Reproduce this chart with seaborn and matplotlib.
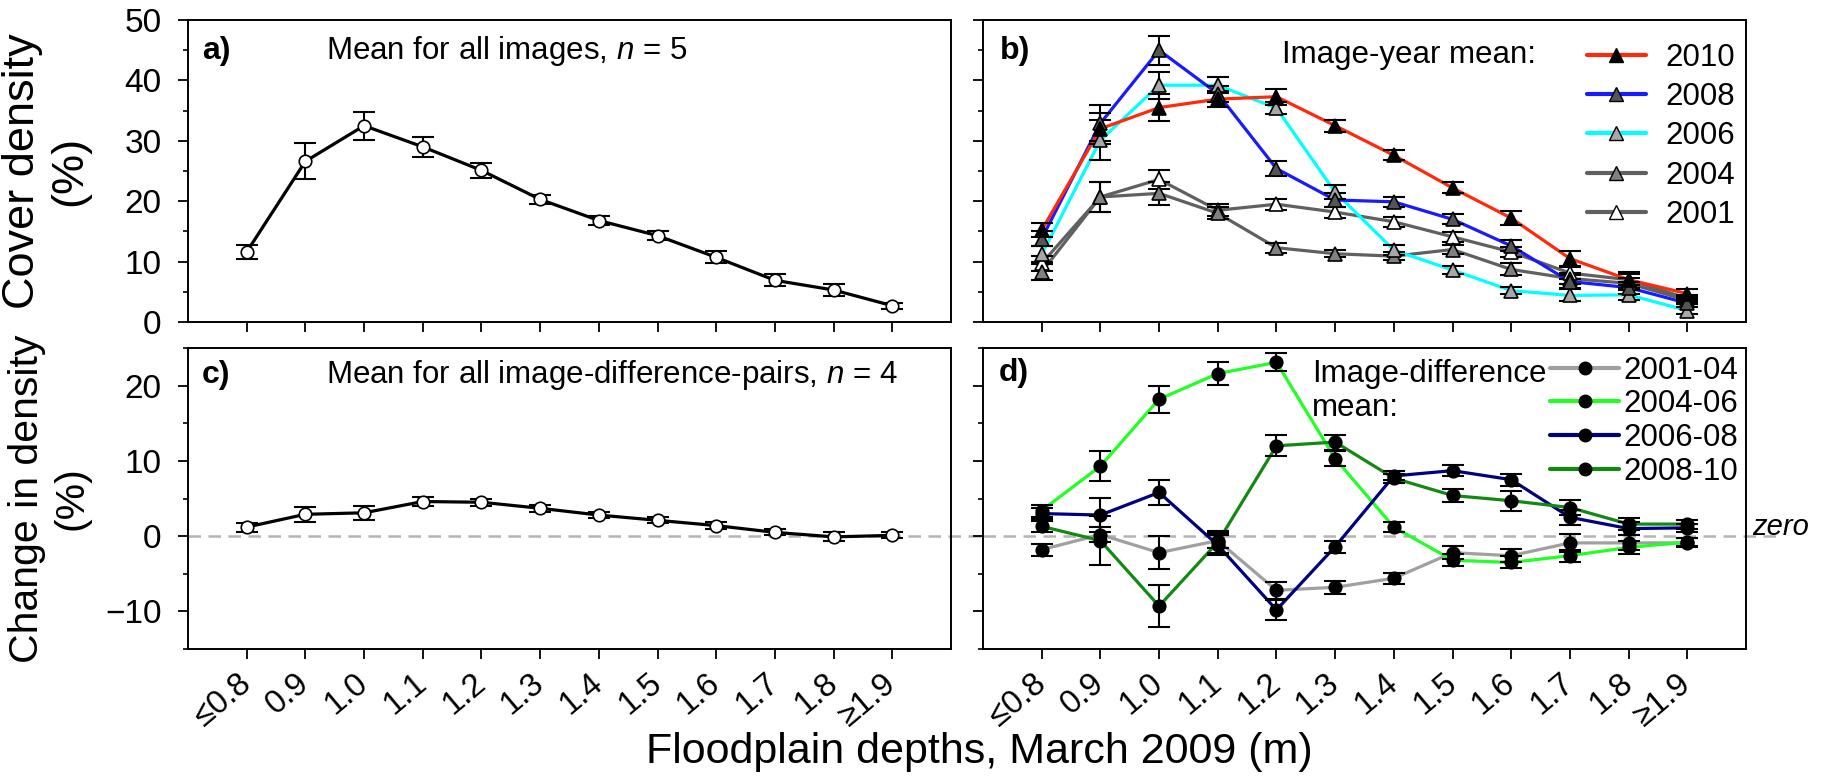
import matplotlib
matplotlib.use("Agg")
import matplotlib.pyplot as plt
import seaborn as sns
import numpy as np
from matplotlib.lines import Line2D
from matplotlib.ticker import MultipleLocator

# Data
depth_labels = ["≤0.8", "0.9", "1.0", "1.1", "1.2", "1.3",
                "1.4", "1.5", "1.6", "1.7", "1.8", "≥1.9"]

# a) mean for all images
all_mean = [11.6, 26.6, 32.5, 29.0, 25.1, 20.3, 16.8, 14.3, 10.7, 6.9, 5.3, 2.7]
all_err = [1.2, 3.0, 2.3, 1.6, 1.2, 0.8, 0.7, 0.7, 1.0, 1.0, 1.0, 0.5]

# b) image-year means
years = ["2010", "2008", "2006", "2004", "2001"]
yr2010 = [15.2, 32.0, 35.5, 36.9, 37.3, 32.5, 27.6, 22.2, 17.2, 10.5, 7.0, 4.7]
err2010 = [1.2, 2.6, 2.2, 1.3, 1.3, 1.0, 0.8, 0.9, 1.2, 1.3, 1.3, 0.7]
yr2008 = [13.8, 32.9, 45.0, 37.8, 25.4, 20.2, 19.9, 17.0, 12.6, 6.7, 5.7, 3.1]
err2008 = [1.3, 3.0, 2.4, 1.3, 1.3, 1.2, 0.8, 0.8, 0.9, 1.0, 1.0, 0.6]
yr2006 = [11.2, 30.1, 39.2, 39.2, 35.4, 21.5, 11.9, 8.6, 5.2, 4.4, 4.5, 1.9]
err2006 = [1.3, 3.3, 2.2, 1.3, 1.0, 1.2, 0.8, 0.7, 0.6, 1.0, 0.8, 0.6]
yr2004 = [8.3, 20.7, 21.3, 18.0, 12.3, 11.3, 10.9, 12.0, 8.7, 7.2, 6.4, 3.6]
err2004 = [1.3, 2.5, 1.9, 1.0, 0.8, 0.6, 0.7, 0.8, 1.0, 0.9, 0.9, 0.7]
yr2001 = [9.7, 20.7, 23.6, 18.5, 19.5, 18.2, 16.6, 14.1, 11.6, 8.1, 7.0, 3.9]
err2001 = [1.3, 2.5, 1.6, 1.0, 0.9, 0.9, 0.8, 0.8, 0.8, 1.0, 0.9, 0.6]

# c) mean for all image-difference pairs
pair_mean = [1.2, 2.9, 3.1, 4.6, 4.5, 3.7, 2.8, 2.1, 1.4, 0.5, -0.1, 0.1]
pair_err = [0.6, 1.0, 0.9, 0.6, 0.5, 0.5, 0.4, 0.4, 0.5, 0.4, 0.6, 0.4]

# d) image-difference means
pairs = ["2001-04", "2004-06", "2006-08", "2008-10"]
d0104 = [-1.8, 0.2, -2.2, -0.6, -7.2, -6.8, -5.6, -2.2, -2.6, -0.9, -0.9, -0.9]
e0104 = [0.8, 1.0, 2.2, 1.0, 1.1, 0.9, 0.7, 0.9, 0.9, 1.2, 1.0, 0.6]
d0406 = [3.4, 9.3, 18.2, 21.6, 23.1, 10.3, 1.2, -3.2, -3.5, -2.6, -1.5, -0.8]
e0406 = [0.8, 2.0, 1.8, 1.5, 1.2, 1.0, 0.7, 0.8, 0.8, 0.8, 0.9, 0.5]
d0608 = [3.0, 2.8, 5.8, -1.2, -9.8, -1.4, 8.0, 8.7, 7.5, 2.5, 1.0, 1.1]
e0608 = [0.7, 2.3, 1.7, 1.3, 1.3, 0.8, 0.6, 0.7, 0.8, 1.0, 0.9, 0.5]
d0810 = [1.3, -0.6, -9.3, -0.8, 12.0, 12.5, 7.7, 5.4, 4.7, 3.8, 1.6, 1.6]
e0810 = [0.7, 3.3, 2.8, 1.5, 1.4, 1.0, 0.6, 0.8, 1.3, 1.0, 0.8, 0.6]

# Styles
year_line = ["#ff2a0a", "#1a1aff", "#00ffff", "#606060", "#606060"]
year_face = ["black", "#555555", "#a8a8a8", "#808080", "white"]
pair_line = ["#a0a0a0", "#22ff22", "#000080", "#128a12"]

sns.set_theme(style="ticks")
plt.rcParams["font.family"] = ["Liberation Sans", "DejaVu Sans"]
plt.rcParams["mathtext.fontset"] = "custom"
plt.rcParams["mathtext.rm"] = "Liberation Sans"
plt.rcParams["mathtext.it"] = "Liberation Sans:italic"
for k in ["text.color", "axes.labelcolor", "xtick.color", "ytick.color",
          "axes.edgecolor"]:
    plt.rcParams[k] = "black"

x = np.arange(len(depth_labels))

fig = plt.figure(figsize=(18.28, 7.8), dpi=100)
W, H = 1828, 780
def box(l, t, r, b):
    return [l / W, 1 - b / H, (r - l) / W, (b - t) / H]

ax_a = fig.add_axes(box(188, 20, 951, 322))
ax_b = fig.add_axes(box(983, 20, 1746, 322))
ax_c = fig.add_axes(box(188, 348, 951, 649))
ax_d = fig.add_axes(box(983, 348, 1746, 649))


def draw_series(ax, y, err, line_color, marker, face, ms, lw=2.3):
    sns.lineplot(x=x, y=y, color=line_color, lw=lw, ax=ax, legend=False,
                 zorder=2)
    ax.errorbar(x, y, yerr=err, fmt="none", ecolor="black", elinewidth=1.5,
                capsize=8, capthick=1.5, zorder=3)
    ax.plot(x, y, ls="none", marker=marker, mfc=face, mec="black",
            mew=1.2, ms=ms, zorder=4)


# a)
draw_series(ax_a, all_mean, all_err, "black", "o", "white", 9)
# c)
draw_series(ax_c, pair_mean, pair_err, "black", "o", "white", 9)

# b)
year_vals = [yr2010, yr2008, yr2006, yr2004, yr2001]
year_errs = [err2010, err2008, err2006, err2004, err2001]
for i in [4, 3, 2, 1, 0]:
    draw_series(ax_b, year_vals[i], year_errs[i], year_line[i], "^",
                year_face[i], 10)

# d)
pair_vals = [d0104, d0406, d0608, d0810]
pair_errs = [e0104, e0406, e0608, e0810]
for i in range(4):
    draw_series(ax_d, pair_vals[i], pair_errs[i], pair_line[i], "o",
                "black", 9)

# zero line across c and d, running past d to the "zero" note
gap = (983 - 951) / 763
for ax in (ax_c, ax_d):
    ax.axhline(0, xmin=0, xmax=1 + gap, color="#b4b4b4", lw=1.8,
               ls=(0, (5, 3)), zorder=1, clip_on=False)
fig.text(1752 / W, 1 - 527 / H, "zero", style="italic", fontsize=21,
         ha="left", va="center")

# Axes formatting
for ax in (ax_a, ax_b, ax_c, ax_d):
    ax.set_xlim(-1, 12)
    ax.set_xticks(x)
    ax.yaxis.set_major_locator(MultipleLocator(10))
    ax.yaxis.set_minor_locator(MultipleLocator(5))
    ax.tick_params(which="major", direction="out", length=7, width=1.3,
                   labelsize=24, pad=12, color="black")
    ax.tick_params(which="minor", direction="out", length=3.5, width=1.2)
    ax.tick_params(axis="x", which="minor", bottom=False)
    for s in ax.spines.values():
        s.set_linewidth(1.4)
        s.set_color("black")
    ax.set_xlabel("")
    ax.set_ylabel("")

for ax in (ax_a, ax_b):
    ax.set_ylim(0, 50)
    ax.set_xticklabels([])
for ax in (ax_c, ax_d):
    ax.set_ylim(-15, 25)
    ax.set_xticklabels(depth_labels, rotation=40, ha="right", va="center",
                       rotation_mode="anchor")
    ax.tick_params(axis="x", pad=15, labelsize=23.5)
for ax in (ax_b, ax_d):
    ax.set_yticklabels([])

ax_a.set_ylabel("Cover density\n(%)", fontsize=32.5)
ax_c.set_ylabel("Change in density\n(%)", fontsize=29.5)
for ax in (ax_a, ax_c):
    ax.yaxis.set_label_coords(-0.128, 0.5)

fig.text(0.536, 0.036, "Floodplain depths, March 2009 (m)", fontsize=31,
         ha="center", va="center")

# Panel letters and notes
ax_a.text(0.018, 0.897, "a)", transform=ax_a.transAxes, fontsize=23,
          fontweight="bold", va="center")
ax_a.text(0.181, 0.897, r"Mean for all images, $n$ = 5",
          transform=ax_a.transAxes, fontsize=22.5, va="center")
ax_c.text(0.018, 0.91, "c)", transform=ax_c.transAxes, fontsize=23,
          fontweight="bold", va="center")
ax_c.text(0.181, 0.91, r"Mean for all image-difference-pairs, $n$ = 4",
          transform=ax_c.transAxes, fontsize=22.5, va="center")
ax_b.text(0.022, 0.897, "b)", transform=ax_b.transAxes, fontsize=23,
          fontweight="bold", va="center")
ax_b.text(0.392, 0.885, "Image-year mean:", transform=ax_b.transAxes,
          fontsize=22.5, va="center")
ax_d.text(0.431, 0.965, "Image-difference\nmean:", transform=ax_d.transAxes,
          fontsize=22.5, va="top", linespacing=1.2)
ax_d.text(0.02, 0.917, "d)", transform=ax_d.transAxes, fontsize=23,
          fontweight="bold", va="center")

# Legends
h_b = [Line2D([], [], color=year_line[i], lw=3, marker="^", mfc=year_face[i],
              mec="black", ms=10) for i in range(5)]
ax_b.legend(h_b, years, loc="upper right", bbox_to_anchor=(0.985, 0.925),
            frameon=False, fontsize=22.5, handlelength=1.9,
            handletextpad=0.6, labelspacing=0.3, borderpad=0,
            borderaxespad=0)
h_d = [Line2D([], [], color=pair_line[i], lw=3, marker="o", mfc="black",
              mec="black", ms=9) for i in range(4)]
ax_d.legend(h_d, pairs, loc="upper right", bbox_to_anchor=(0.99, 0.975),
            frameon=False, fontsize=22.5, handlelength=2.2,
            handletextpad=0.15, labelspacing=0.12, borderpad=0,
            borderaxespad=0)

fig.savefig("out.png", dpi=100)
